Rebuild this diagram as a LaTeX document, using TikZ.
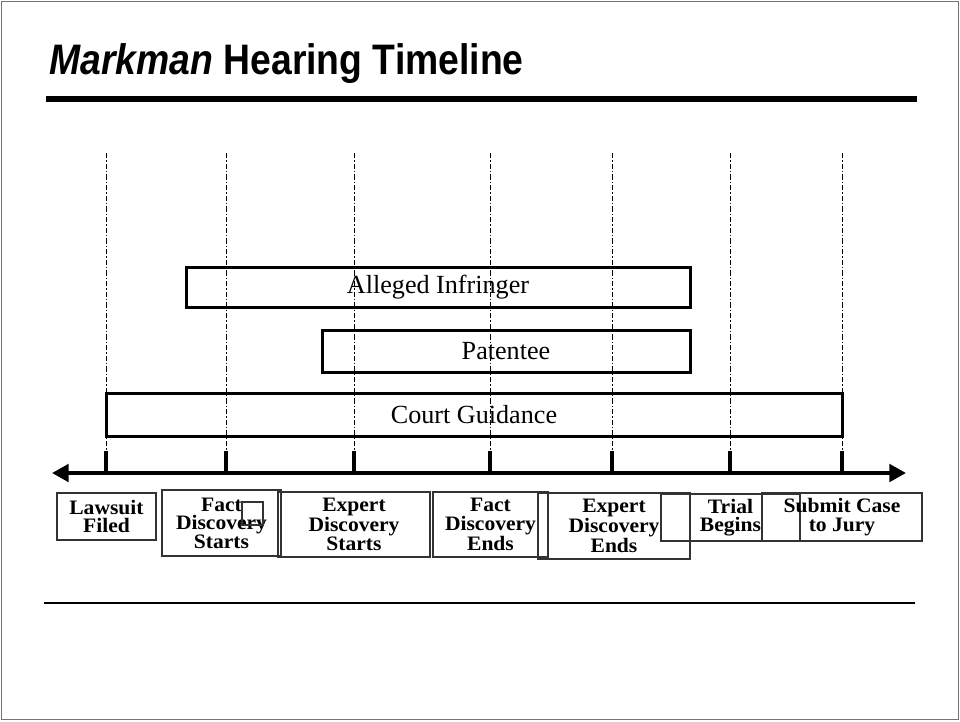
\documentclass[tikz,border=0pt]{standalone}
\usepackage{fontspec}
\setmainfont{Liberation Serif}
\newfontfamily\titlefont[FakeStretch=0.875]{Liberation Sans}
\newfontfamily\lblfont[FakeStretch=1.05]{Liberation Serif}
\usetikzlibrary{arrows.meta}
\begin{document}
\begin{tikzpicture}[x=0.75pt,y=-0.75pt,
  bar/.style={draw=black, line width=2.25pt, inner sep=0pt, font=\fontsize{19.6}{22}\selectfont},
  lbl/.style={draw=black!80, line width=0.8pt, inner sep=0pt, align=center, font=\lblfont\bfseries\fontsize{15.4}{13.9}\selectfont},
  guide/.style={line width=0.7pt, dash pattern=on 4pt off 1.5pt on 1pt off 1.5pt},
  tickmark/.style={line width=2.6pt},
  axisline/.style={line width=3pt, {Triangle[length=12.5pt,width=13pt]}-{Triangle[length=12.5pt,width=13pt]}},
  rule/.style={line width=#1}
]
\useasboundingbox (0,0) rectangle (960,721);
\draw[black!55, line width=1pt] (1.5,1.5) rectangle (958.5,719.5);

% title
\node[anchor=base west, inner sep=0pt, font=\titlefont\bfseries\fontsize{32}{36}\selectfont] (title) at (49,74) {\textit{Markman} Hearing Timeline};
\coordinate (r1a) at (46,99);
\coordinate (r1b) at (917,99);
\draw[rule=4.5pt] (r1a) -- (r1b);
\coordinate (r2a) at (44,603);
\coordinate (r2b) at (915,603);
\draw[rule=2.2pt] (r2a) -- (r2b);

% guides and ticks
\foreach \n/\x in {1/106,2/226,3/354,4/490,5/612,6/730,7/842}{
  \coordinate (top\n) at (\x,153);
  \coordinate (tk\n) at (\x,451);
  \coordinate (ax\n) at (\x,473);
  \draw[guide] (top\n) -- (tk\n);
  \draw[tickmark] (tk\n) -- (ax\n);
}
\coordinate (axl) at (52,473);
\coordinate (axr) at (906,473);
\draw[axisline] (axl) -- (axr);

% bars
\node[bar, minimum width=378pt, minimum height=30pt] (ai) at (438,287) {Alleged Infringer};
\node[bar, minimum width=276pt, minimum height=31.5pt] (pat) at (506,351) {Patentee};
\node[bar, minimum width=552pt, minimum height=32.25pt] (court) at (474,414.5) {Court Guidance};

% labels
\node[lbl, minimum width=74.25pt, minimum height=35.25pt] (lawsuit) at (106.5,516.5) {Lawsuit\\Filed};
\node[lbl, minimum width=89.25pt, minimum height=49.5pt] (factS) at (221.5,523) {Fact\\Discovery\\Starts};
\node[draw=black!80, line width=0.8pt, inner sep=0pt, minimum width=15.75pt, minimum height=17.25pt] (sq) at (252.5,513.5) {};
\node[lbl, minimum width=114pt, minimum height=48.75pt] (expS) at (354,524.5) {Expert\\Discovery\\Starts};
\node[lbl, minimum width=86.25pt, minimum height=48.75pt] (factE) at (490.5,524.5) {Fact\\Discovery\\Ends};
\node[lbl, minimum width=114pt, minimum height=49.5pt] (expE) at (614,526) {Expert\\Discovery\\Ends};
\node[lbl, minimum width=104.25pt, minimum height=35.25pt] (trial) at (730.5,517.5) {Trial\\Begins};
\node[lbl, minimum width=120pt, minimum height=36pt] (submit) at (842,517) {Submit Case\\to Jury};
\end{tikzpicture}
\end{document}
